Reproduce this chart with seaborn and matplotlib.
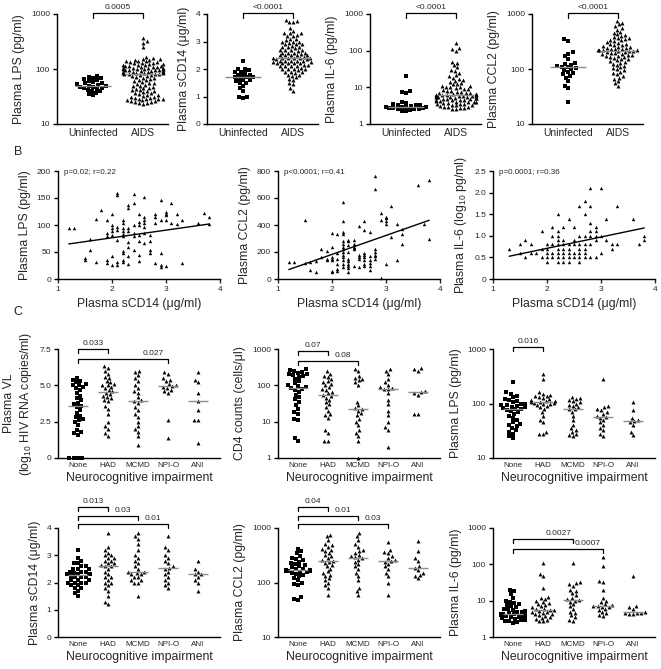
import numpy as np
import pandas as pd
import seaborn as sns
import matplotlib.pyplot as plt
import matplotlib.transforms as mtrans
from matplotlib.ticker import NullLocator

# ---- A: uninfected vs AIDS ----
a_groups = ['Uninfected', 'AIDS']
a_lps_uninf = [75, 72, 70, 68, 65, 62, 60, 58, 56, 55, 53, 52, 50, 49, 48, 47, 46, 45, 44, 42, 40, 39, 37, 35, 33]
a_lps_aids = [360, 320, 300, 255, 165, 160, 155, 150, 148, 145, 142, 140, 138, 135, 132, 130, 128, 126, 124, 122,
              120, 118, 116, 115, 114, 112, 110, 109, 108, 106, 105, 104, 103, 102, 101, 100, 99, 98, 97, 96,
              95, 94, 93, 92, 91, 90, 89, 88, 87, 86, 85, 84, 83, 82, 81, 80, 80, 79, 78, 76, 74, 72, 70, 68,
              66, 64, 62, 60, 58, 56, 55, 54, 52, 50, 49, 48, 46, 45, 44, 42, 41, 40, 39, 38, 37, 36, 35, 34,
              33, 32, 31, 31, 30, 30, 29, 29, 28, 28, 27, 27, 26, 26, 25, 25, 24, 24, 23]
a_scd14_uninf = [2.3, 2.0, 2.0, 1.95, 1.9, 1.9, 1.85, 1.8, 1.8, 1.75, 1.7, 1.7, 1.7, 1.65, 1.6, 1.6, 1.55,
                 1.5, 1.5, 1.4, 1.3, 1.2, 1.0, 0.95, 1.0]
a_scd14_aids = [3.8, 3.75, 3.7, 3.7, 3.5, 3.4, 3.3, 3.3, 3.3, 3.25, 3.2, 3.2, 3.1, 3.1, 3.05, 3.0, 3.0, 3.0,
                2.95, 2.9, 2.9, 2.9, 2.85, 2.8, 2.8, 2.8, 2.75, 2.7, 2.7, 2.7, 2.7, 2.65, 2.6, 2.6, 2.6, 2.6,
                2.55, 2.5, 2.5, 2.5, 2.5, 2.5, 2.45, 2.4, 2.4, 2.4, 2.4, 2.4, 2.4, 2.35, 2.3, 2.3, 2.3, 2.3,
                2.3, 2.25, 2.2, 2.2, 2.2, 2.2, 2.2, 2.15, 2.1, 2.1, 2.1, 2.1, 2.05, 2.0, 2.0, 2.0, 2.0, 1.95,
                1.9, 1.9, 1.9, 1.85, 1.8, 1.8, 1.75, 1.7, 1.65, 1.6, 1.5, 1.45, 1.3, 1.2, 2.35, 2.25, 2.15]
a_il6_uninf = [20, 8, 7.5, 7, 4.0, 3.8, 3.6, 3.4, 3.3, 3.2, 3.1, 3.0, 3.0, 3.0, 2.9, 2.8, 2.8, 2.7, 2.6,
               2.5, 2.5, 2.4, 2.3, 2.2]
a_il6_aids = [160, 120, 110, 100, 50, 45, 40, 35, 30, 28, 25, 22, 20, 18, 17, 16, 15, 14, 13, 12, 12, 11, 11,
              10.5, 10, 10, 9.5, 9, 9, 8.5, 8, 8, 7.5, 7.5, 7, 7, 7, 6.5, 6.5, 6.5, 6, 6, 6, 6, 5.8, 5.7,
              5.6, 5.5, 5.5, 5.4, 5.3, 5.2, 5.1, 5.0, 5.0, 4.9, 4.8, 4.7, 4.6, 4.5, 4.5, 4.4, 4.3, 4.2,
              4.1, 4.0, 4.0, 3.9, 3.8, 3.7, 3.6, 3.5, 3.5, 3.4, 3.3, 3.2, 3.1, 3.0, 3.0, 2.9, 2.8, 2.7,
              2.6, 2.5, 6.2, 5.9, 5.75]
a_ccl2_uninf = [350, 320, 200, 190, 170, 150, 130, 125, 120, 115, 110, 108, 105, 100, 95, 90, 85, 80, 75,
                70, 60, 50, 45, 25]
a_ccl2_aids = [750, 700, 650, 600, 560, 520, 480, 450, 430, 420, 400, 380, 370, 360, 350, 340, 330, 320, 310,
               300, 290, 280, 275, 270, 260, 255, 250, 245, 240, 235, 230, 225, 222, 220, 218, 215, 210, 205,
               200, 195, 190, 185, 180, 175, 170, 165, 160, 155, 150, 145, 140, 135, 130, 125, 120, 115, 110,
               105, 100, 95, 90, 85, 80, 75, 70, 65, 60, 55, 50, 228, 212, 198, 182, 168]

# ---- B: correlations with sCD14 ----
b_lps_x = [1.2, 1.3, 1.5, 1.5, 1.6, 1.6, 1.7, 1.7, 1.8, 1.9, 1.9, 1.9, 1.9, 1.9,
           2.0, 2.0, 2.0, 2.0, 2.0, 2.0, 2.0, 2.1, 2.1, 2.1, 2.1, 2.1, 2.1, 2.1,
           2.2, 2.2, 2.2, 2.2, 2.2, 2.2, 2.2, 2.2, 2.2, 2.2, 2.3, 2.3, 2.3, 2.3, 2.3, 2.3, 2.3, 2.3,
           2.4, 2.4, 2.4, 2.4, 2.4, 2.4, 2.5, 2.5, 2.5, 2.5, 2.5, 2.5, 2.5,
           2.6, 2.6, 2.6, 2.6, 2.6, 2.6, 2.6, 2.7, 2.7, 2.7, 2.7, 2.8, 2.8, 2.8, 2.8,
           2.9, 2.9, 2.9, 2.9, 2.9, 3.0, 3.0, 3.0, 3.0, 3.0, 3.1, 3.1, 3.2, 3.2, 3.3, 3.3,
           3.6, 3.7, 3.8, 3.8]
b_lps_y = [94, 95, 38, 35, 54, 74, 31, 112, 127, 29, 36, 85, 109, 80,
           121, 100, 94, 82, 42, 26, 88, 155, 160, 97, 72, 26, 31, 90,
           109, 103, 94, 88, 79, 51, 48, 36, 31, 84, 137, 131, 94, 88, 69, 60, 43, 28,
           158, 141, 100, 85, 79, 54, 120, 106, 82, 70, 45, 33, 100,
           152, 115, 109, 103, 97, 85, 66, 82, 70, 54, 48, 121, 115, 104, 30,
           146, 109, 48, 26, 22, 124, 121, 118, 109, 24, 141, 104, 120, 102, 109, 29,
           104, 122, 115, 102]
b_lps_fit = (14.2, 47.9)  # slope, intercept

b_ccl2_x = [1.2, 1.3, 1.5, 1.5, 1.6, 1.6, 1.7, 1.7, 1.8, 1.8, 1.9, 1.9, 1.9,
            2.0, 2.0, 2.0, 2.0, 2.0, 2.0, 2.0, 2.1, 2.1, 2.1, 2.1, 2.1, 2.1,
            2.2, 2.2, 2.2, 2.2, 2.2, 2.2, 2.2, 2.2, 2.2, 2.2, 2.2, 2.2, 2.2, 2.2,
            2.3, 2.3, 2.3, 2.3, 2.3, 2.3, 2.3, 2.3, 2.3, 2.3, 2.4, 2.4, 2.4, 2.4, 2.4, 2.4,
            2.5, 2.5, 2.5, 2.5, 2.5, 2.6, 2.6, 2.6, 2.6, 2.6, 2.6, 2.6, 2.6,
            2.7, 2.7, 2.7, 2.7, 2.7, 2.7, 2.8, 2.8, 2.8, 2.8, 2.8, 2.8, 2.8,
            2.9, 2.9, 2.9, 3.0, 3.0, 3.0, 3.0, 3.0, 3.1, 3.1, 3.2, 3.2, 3.3, 3.3, 3.3,
            3.6, 3.7, 3.8, 3.8]
b_ccl2_y = [127, 127, 440, 120, 65, 125, 50, 130, 220, 160, 210, 140, 150,
            340, 240, 160, 150, 140, 60, 55, 330, 190, 150, 110, 75, 60,
            570, 430, 350, 330, 280, 260, 240, 220, 200, 180, 160, 140, 110, 90,
            290, 280, 250, 200, 150, 130, 110, 100, 80, 55, 290, 260, 240, 230, 220, 100,
            390, 180, 160, 150, 90, 430, 360, 190, 180, 160, 140, 110, 100,
            350, 170, 140, 120, 100, 70, 760, 670, 220, 200, 180, 170, 150,
            490, 440, 10, 460, 450, 430, 410, 110, 540, 310, 410, 140, 370, 330, 260,
            700, 410, 735, 300]
b_ccl2_fit = (140.4, -98.5)

b_il6_x = [1.3, 1.5, 1.5, 1.6, 1.6, 1.7, 1.7, 1.8, 1.9, 1.9, 1.9,
           2.0, 2.0, 2.0, 2.0, 2.0, 2.1, 2.1, 2.1, 2.1, 2.1,
           2.2, 2.2, 2.2, 2.2, 2.2, 2.2, 2.2, 2.2, 2.2, 2.3, 2.3, 2.3, 2.3, 2.3, 2.3, 2.3,
           2.4, 2.4, 2.4, 2.4, 2.4, 2.4, 2.5, 2.5, 2.5, 2.5, 2.5,
           2.6, 2.6, 2.6, 2.6, 2.6, 2.6, 2.6, 2.7, 2.7, 2.7, 2.7, 2.7, 2.7, 2.7,
           2.8, 2.8, 2.8, 2.8, 2.8, 2.8, 2.8, 2.9, 2.9, 2.9, 2.9, 2.9,
           3.0, 3.0, 3.0, 3.1, 3.1, 3.2, 3.2, 3.3, 3.3, 3.6, 3.7, 3.8, 3.8]
b_il6_y = [0.7, 0.8, 0.6, 0.9, 0.5, 0.8, 0.6, 0.6, 1.1, 0.7, 0.5,
           0.8, 0.7, 0.6, 0.5, 0.4, 1.2, 1.0, 0.8, 0.6, 0.5,
           1.5, 1.1, 1.0, 0.9, 0.8, 0.7, 0.6, 0.5, 0.4, 1.2, 0.9, 0.8, 0.7, 0.6, 0.5, 0.4,
           1.4, 0.8, 0.7, 0.6, 0.5, 0.4, 1.2, 0.9, 0.8, 0.6, 0.5,
           1.7, 1.0, 0.8, 0.7, 0.6, 0.5, 0.4, 1.8, 1.5, 1.0, 0.8, 0.7, 0.6, 0.5,
           2.1, 1.7, 1.3, 1.1, 1.0, 0.8, 0.5, 1.2, 1.1, 1.0, 0.9, 0.5,
           2.1, 1.0, 0.6, 1.4, 0.9, 0.8, 0.7, 1.7, 0.8, 1.4, 0.8, 1.0, 0.9]
b_il6_fit = (0.262, 0.186)

# ---- C: neurocognitive impairment groups ----
c_groups = ['None', 'HAD', 'MCMD', 'NPI-O', 'ANI']
c_vl = [
    [5.5, 5.4, 5.3, 5.2, 5.1, 5.0, 5.0, 4.9, 4.8, 4.7, 4.5, 4.3, 4.1, 4.0, 3.8, 3.7, 3.6, 3.5, 3.3, 3.1,
     2.9, 2.8, 2.7, 2.6, 2.5, 2.3, 1.9, 1.8, 1.7, 1.6, 0.0, 0.0, 0.0, 0.0],
    [6.3, 6.2, 6.0, 5.8, 5.6, 5.5, 5.3, 5.2, 5.1, 5.0, 5.0, 4.9, 4.8, 4.7, 4.6, 4.5, 4.4, 4.3, 4.2, 4.1,
     4.0, 3.9, 3.6, 3.4, 3.0, 2.5, 2.2, 2.0, 1.7, 1.5],
    [6.0, 5.9, 5.7, 5.5, 5.3, 5.0, 4.8, 4.6, 4.5, 4.2, 4.0, 3.9, 3.8, 3.5, 3.3, 3.0, 2.8, 2.5, 2.2, 2.0,
     1.8, 1.5, 0.9],
    [5.9, 5.8, 5.5, 5.4, 5.3, 5.1, 5.0, 4.95, 4.9, 4.85, 4.7, 4.6, 4.5, 2.6, 1.4],
    [5.9, 5.4, 5.2, 4.5, 3.9, 3.3, 2.6, 2.6, 1.0],
]
c_cd4 = [
    [280, 260, 250, 240, 225, 210, 200, 190, 180, 170, 150, 130, 115, 100, 95, 88, 85, 80, 75, 65, 55, 48,
     42, 35, 28, 22, 18, 16, 12, 11, 3.5, 3.0],
    [250, 210, 180, 170, 150, 130, 120, 110, 100, 90, 80, 75, 65, 60, 55, 50, 45, 40, 35, 30, 25, 20, 16,
     15, 13, 6, 5, 3, 3],
    [290, 250, 180, 160, 150, 140, 120, 100, 35, 28, 24, 22, 20, 17, 15, 12, 10, 8, 6, 5, 4, 3, 1],
    [280, 250, 200, 150, 120, 100, 90, 85, 80, 78, 60, 40, 30, 20, 15, 10, 7, 6, 2],
    [300, 280, 250, 70, 65, 60, 55, 16, 16],
]
c_lps = [
    [250, 160, 150, 140, 130, 120, 115, 110, 105, 100, 98, 95, 92, 90, 88, 85, 82, 80, 78, 75, 72, 70, 65,
     60, 55, 50, 45, 42, 40, 38, 35, 32, 30, 28, 25, 23],
    [350, 280, 160, 150, 145, 140, 135, 130, 125, 120, 115, 112, 110, 108, 105, 104, 102, 100, 98, 95, 90,
     85, 80, 70, 60, 50, 45, 30, 28, 27],
    [130, 125, 120, 115, 110, 105, 100, 95, 90, 85, 80, 78, 70, 60, 50, 40, 35, 33, 30, 28, 26, 25],
    [280, 90, 85, 80, 75, 70, 65, 60, 57, 55, 50, 45, 40, 35, 32, 28, 25],
    [105, 75, 55, 50, 48, 45, 40, 30, 26],
]
c_scd14 = [
    [3.2, 2.9, 2.8, 2.7, 2.7, 2.6, 2.6, 2.5, 2.5, 2.5, 2.4, 2.4, 2.4, 2.35, 2.3, 2.3, 2.3, 2.3, 2.25, 2.2,
     2.2, 2.2, 2.1, 2.1, 2.1, 2.0, 2.0, 2.0, 2.0, 1.9, 1.9, 1.8, 1.8, 1.7, 1.6, 1.5],
    [3.8, 3.3, 3.2, 3.1, 3.0, 3.0, 2.9, 2.9, 2.8, 2.8, 2.7, 2.7, 2.65, 2.6, 2.6, 2.5, 2.4, 2.3, 2.2, 2.2,
     2.1, 2.0, 2.0, 1.9, 1.8, 1.7, 1.5, 1.3, 1.2],
    [3.8, 3.7, 3.6, 3.4, 3.2, 3.0, 2.9, 2.8, 2.7, 2.6, 2.5, 2.4, 2.4, 2.35, 2.3, 2.3, 2.2, 2.2, 2.1, 2.1,
     2.0, 2.0, 1.5],
    [3.7, 3.3, 3.2, 3.0, 2.9, 2.8, 2.7, 2.6, 2.55, 2.5, 2.4, 2.3, 2.2, 2.1, 2.0, 1.9, 1.8],
    [2.8, 2.5, 2.4, 2.3, 2.3, 2.2, 2.1, 2.0, 1.7],
]
c_ccl2 = [
    [420, 380, 350, 300, 280, 270, 260, 240, 230, 220, 210, 200, 190, 180, 175, 170, 168, 165, 162, 160,
     158, 155, 150, 145, 140, 130, 120, 110, 100, 95, 90, 55, 50, 48],
    [750, 700, 600, 500, 480, 450, 420, 400, 380, 350, 320, 300, 280, 260, 250, 240, 230, 210, 200, 180,
     160, 150, 140, 130, 120, 110, 100, 90, 80, 60],
    [800, 700, 600, 500, 450, 400, 380, 350, 320, 300, 290, 280, 260, 240, 220, 200, 180, 150, 130, 110,
     80, 70, 60],
    [560, 400, 370, 350, 300, 280, 260, 250, 240, 220, 200, 180, 150, 130, 100, 60],
    [580, 380, 280, 250, 200, 185, 170, 150, 140, 130, 120],
]
c_il6 = [
    [20, 18, 15, 12, 10, 9, 8.5, 8, 7.5, 7, 6.5, 6, 5.8, 5.5, 5.2, 5, 4.8, 4.5, 4.4, 4.3, 4.3, 4.2, 4,
     3.9, 3.8, 3.6, 3.5, 3.4, 3.2, 3, 2.9, 2.8, 2.7, 2.6, 2.5, 4.1, 3.7],
    [110, 55, 48, 22, 13, 12, 11, 10, 9, 8.5, 8, 7.5, 7, 6.5, 6, 5.8, 5.6, 5.4, 5.2, 5, 4.8, 4.6, 4.4,
     4.2, 4, 3.8, 3.6, 3.4, 3.2, 3, 2.8, 2.7],
    [110, 32, 30, 28, 25, 20, 18, 16, 14, 12, 11, 10.5, 10, 9, 8, 7, 6, 5, 4.5, 4, 3.5, 3, 2.8],
    [160, 90, 35, 33, 20, 12, 10, 9, 8, 7.5, 7.2, 7, 6.8, 6.5, 6, 5.5, 5, 4.5, 4, 3.8],
    [48, 7, 6.5, 6, 5, 4.7, 4.5, 4.5, 4.3, 4.2],
]

sns.set_style('ticks')
plt.rcParams['font.family'] = ['Liberation Sans', 'DejaVu Sans']
plt.rcParams['mathtext.fontset'] = 'custom'
plt.rcParams['mathtext.rm'] = 'Liberation Sans'
plt.rcParams['axes.linewidth'] = 1.0
plt.rcParams['axes.edgecolor'] = 'black'

W, H = 661, 669
fig = plt.figure(figsize=(W / 100, H / 100), dpi=100)
LABEL = 8.8


def add_ax(left, top, width, height):
    return fig.add_axes([left / W, 1 - (top + height) / H, width / W, height / H])


def style_axis(ax, yticks, ylabels, ylim, ylabel):
    sns.despine(ax=ax)
    ax.set_ylim(*ylim)
    ax.set_yticks(yticks, labels=ylabels)
    ax.yaxis.set_minor_locator(NullLocator())
    ax.tick_params(axis='y', labelsize=6, length=3, width=1, pad=2, color='black')
    ax.set_ylabel(ylabel, fontsize=LABEL)


def dotplot(ax, groups, values, log, xsize, half=0.35):
    df = pd.DataFrame({'group': np.repeat(groups, [len(v) for v in values]),
                       'val': np.concatenate(values)})
    sns.swarmplot(data=df[df.group == groups[0]], x='group', y='val', order=groups,
                  marker='s', size=3.0, color='black', linewidth=0, ax=ax,
                  log_scale=log, warn_thresh=1)
    sns.swarmplot(data=df[df.group != groups[0]], x='group', y='val', order=groups,
                  marker='^', size=2.8, color='black', linewidth=0, ax=ax,
                  log_scale=log, warn_thresh=1)
    for i, v in enumerate(values):
        ax.hlines(np.median(v), i - half, i + half, color='#8c8c8c', lw=1, zorder=4)
    for c in ax.collections:
        c.set_clip_on(False)
    ax.set_xlabel('')
    ax.tick_params(axis='x', labelsize=xsize, length=0, pad=3)


def bracket(ax, i, j, label, level, arm, size=6):
    tr = mtrans.blended_transform_factory(ax.transData, ax.transAxes)
    ax.plot([i, i, j, j], [level - arm, level, level, level - arm], color='black', lw=0.9,
            transform=tr, clip_on=False)
    ax.text(j - 0.5, level + 0.02, label, transform=tr, ha='center', va='bottom', fontsize=size)


# ---- row A ----
a_panels = [
    (57, [a_lps_uninf, a_lps_aids], True, [10, 100, 1000], ['10', '100', '1000'], (10, 1000),
     'Plasma LPS (pg/ml)', '0.0005'),
    (207, [a_scd14_uninf, a_scd14_aids], False, [0, 1, 2, 3, 4], ['0', '1', '2', '3', '4'], (0, 4),
     'Plasma sCD14 (\u03bcg/ml)', '<0.0001'),
    (370, [a_il6_uninf, a_il6_aids], True, [1, 10, 100, 1000], ['1', '10', '100', '1000'], (1, 1000),
     'Plasma IL-6 (pg/ml)', '<0.0001'),
    (532, [a_ccl2_uninf, a_ccl2_aids], True, [10, 100, 1000], ['10', '100', '1000'], (10, 1000),
     'Plasma CCL2 (pg/ml)', '<0.0001'),
]
for left, vals, log, yt, yl, lim, lab, p in a_panels:
    ax = add_ax(left, 14, 111, 110)
    dotplot(ax, a_groups, vals, log, 7.5, half=0.36)
    style_axis(ax, yt, yl, lim, lab)
    ax.set_xlim(-0.72, 1.5)
    bracket(ax, 0, 1, p, 1.01, 0.045)

# ---- row B ----
b_panels = [
    (58, b_lps_x, b_lps_y, b_lps_fit, [0, 50, 100, 150, 200], ['0', '50', '100', '150', '200'], (0, 200),
     'Plasma LPS (pg/ml)', 'p=0.02; r=0.22'),
    (278, b_ccl2_x, b_ccl2_y, b_ccl2_fit, [0, 200, 400, 600, 800], ['0', '200', '400', '600', '800'],
     (0, 800), 'Plasma CCL2 (pg/ml)', 'p<0.0001; r=0.41'),
    (493, b_il6_x, b_il6_y, b_il6_fit, [0, 0.5, 1.0, 1.5, 2.0, 2.5], ['0', '0.5', '1.0', '1.5', '2.0', '2.5'],
     (0, 2.5), 'Plasma IL-6 (log$_\\mathregular{10}$ pg/ml)', 'p=0.0001; r=0.36'),
]
for left, bx, by, fit, yt, yl, lim, lab, p in b_panels:
    ax = add_ax(left, 171, 162, 108)
    sns.scatterplot(x=bx, y=by, marker='^', s=6, color='black', linewidth=0, ax=ax, clip_on=False)
    xs = np.array([min(bx), max(bx)])
    ax.plot(xs, fit[0] * xs + fit[1], color='black', lw=1)
    style_axis(ax, yt, yl, lim, lab)
    ax.set_xlim(1, 4)
    ax.set_xticks([1, 2, 3, 4])
    ax.tick_params(axis='x', labelsize=6, length=3, width=1, pad=2)
    ax.set_xlabel('Plasma sCD14 (\u03bcg/ml)', fontsize=LABEL)
    ax.text(0.04, 0.985, p, transform=ax.transAxes, fontsize=5.8, va='center', ha='left')

# ---- row C ----
c_panels = [
    (58, 349, c_vl, False, [0, 2.5, 5.0, 7.5], ['0', '2.5', '5.0', '7.5'], (0, 7.5),
     'Plasma VL\n(log$_\\mathregular{10}$ HIV RNA copies/ml)', [(0, 1, '0.033', 1.0), (0, 3, '0.027', 0.908)]),
    (278, 349, c_cd4, True, [1, 10, 100, 1000], ['1', '10', '100', '1000'], (1, 1000),
     'CD4 counts (cells/\u03bcl)', [(0, 1, '0.07', 0.98), (0, 2, '0.08', 0.89)]),
    (493, 349, c_lps, True, [10, 100, 1000], ['10', '100', '1000'], (10, 1000),
     'Plasma LPS (pg/ml)', [(0, 1, '0.016', 1.02)]),
    (58, 528, c_scd14, False, [0, 1, 2, 3, 4], ['0', '1', '2', '3', '4'], (0, 4),
     'Plasma sCD14 (\u03bcg/ml)', [(0, 1, '0.013', 1.19), (0, 2, '0.03', 1.11), (0, 3, '0.01', 1.037)]),
    (278, 528, c_ccl2, True, [10, 100, 1000], ['10', '100', '1000'], (10, 1000),
     'Plasma CCL2 (pg/ml)', [(0, 1, '0.04', 1.19), (0, 2, '0.01', 1.11), (0, 3, '0.03', 1.037)]),
    (493, 528, c_il6, True, [1, 10, 100, 1000], ['1', '10', '100', '1000'], (1, 1000),
     'Plasma IL-6 (pg/ml)', [(0, 2, '0.0027', 0.90), (0, 3, '0.0007', 0.81)]),
]
for left, top, vals, log, yt, yl, lim, lab, brs in c_panels:
    ax = add_ax(left, top, 162, 109)
    dotplot(ax, c_groups, vals, log, 5.8, half=0.33)
    style_axis(ax, yt, yl, lim, lab)
    ax.set_xlim(-0.67, 4.73)
    ax.set_xlabel('Neurocognitive impairment', fontsize=LABEL, labelpad=2)
    for i, j, p, lev in brs:
        bracket(ax, i, j, p, lev, 0.037)

fig.text(18 / W, 1 - 152 / H, 'B', fontsize=9, ha='center', va='center')
fig.text(18 / W, 1 - 312 / H, 'C', fontsize=9, ha='center', va='center')

fig.savefig('out.png', dpi=100)
